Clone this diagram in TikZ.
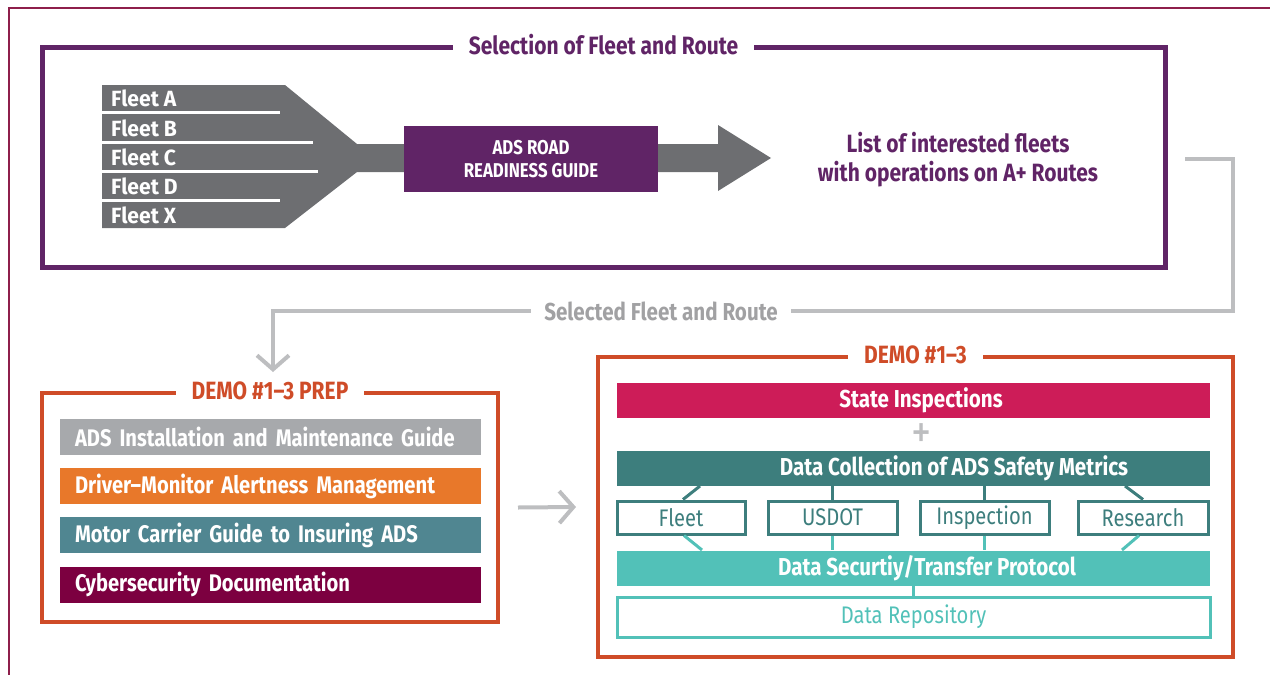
\documentclass[tikz,border=0pt]{standalone}
\usepackage{fontspec}
\setmainfont{Fira Sans}[FakeStretch=0.84]
\newfontfamily\widefont{Fira Sans}[FakeStretch=0.96]
\usetikzlibrary{arrows.meta}
\definecolor{purp}{RGB}{96,36,102}
\definecolor{funnel}{RGB}{109,110,113}
\definecolor{frameor}{RGB}{207,76,40}
\definecolor{lgray}{RGB}{189,190,192}
\definecolor{bargray}{RGB}{167,169,172}
\definecolor{barorange}{RGB}{232,120,42}
\definecolor{barteal}{RGB}{80,134,145}
\definecolor{barmaroon}{RGB}{124,0,64}
\definecolor{crimson}{RGB}{205,28,88}
\definecolor{dteal}{RGB}{61,126,125}
\definecolor{turq}{RGB}{82,193,184}
\definecolor{outer}{RGB}{142,31,75}
\tikzset{
  fleetlbl/.style={anchor=west,text=white,font=\widefont\fontsize{22}{22}\selectfont\bfseries,inner sep=0},
  frametitle/.style={fill=white,inner xsep=16,inner ysep=2,font=\fontsize{25}{25}\selectfont\bfseries},
  prepbar/.style={minimum height=36,text width=391,inner xsep=15,inner ysep=0,align=left,text=white,font=\fontsize{24}{24}\selectfont\bfseries},
  wideBar/.style={minimum width=593,minimum height=35,inner sep=0},
  barText/.style={text=white,font=\fontsize{24.5}{24.5}\selectfont\bfseries,inner sep=0},
  smallbox/.style={draw=dteal,line width=3,fill=white,minimum height=33,inner sep=0,text=dteal,font=\fontsize{24}{24}\selectfont},
  conn/.style={draw=lgray,line width=4},
  chev/.style={-{Straight Barb[length=14pt,width=32pt,line width=4pt]}},
}
\begin{document}
\begin{tikzpicture}[x=1pt,y=-1pt]
\useasboundingbox (0,0) rectangle (1270,675);
% outer frame fragment
\draw[outer,line width=2] (1270,8) -- (9,8) -- (9,675);

% ---------- Selection frame ----------
\node[draw=purp,line width=5,minimum width=1123,minimum height=220,inner sep=0] (sel) at (603.5,157) {};
\node[frametitle,text=purp] (seltitle) at (sel.north) {Selection of Fleet and Route};

% funnel + arrow
\fill[funnel] (102,85) -- (285,85) -- (357,144) -- (718,144) -- (718,125) -- (771,158)
  -- (718,191) -- (718,172) -- (357,172) -- (285,228) -- (102,228) -- cycle;
\draw[white,line width=3] (102,112.5) -- (280,112.5);
\draw[white,line width=3] (102,142) -- (313,142);
\draw[white,line width=3] (102,171.5) -- (318,171.5);
\draw[white,line width=3] (102,200.5) -- (280,200.5);
\node[fleetlbl] (fa) at (111,98) {Fleet A};
\node[fleetlbl] (fb) at (111,128) {Fleet B};
\node[fleetlbl] (fc) at (111,157) {Fleet C};
\node[fleetlbl] (fd) at (111,186) {Fleet D};
\node[fleetlbl] (fx) at (111,215) {Fleet X};

\node[fill=purp,minimum width=254,minimum height=66,inner sep=0,align=center,text=white,
  font=\fontsize{20}{23}\selectfont\bfseries] (road) at (531,159) {ADS ROAD\\READINESS GUIDE};

\node[align=center,text=purp,font=\fontsize{25}{29}\selectfont\bfseries] (list) at (958,160)
  {List of interested fleets\\with operations on A+ Routes};

% ---------- gray connector ----------
\coordinate (c1) at (1185,159);
\coordinate (k1) at (1233,311);
\coordinate (prepin) at (273,372);
\draw[conn,chev] (c1) -| (k1) -| (prepin);
\node[fill=white,inner xsep=13,text=lgray!85!black,font=\fontsize{24.5}{24.5}\selectfont\bfseries] (sfr) at (661,311) {Selected Fleet and Route};

% ---------- PREP frame ----------
\node[draw=frameor,line width=4,minimum width=456,minimum height=229,inner sep=0] (prep) at (270,507.5) {};
\node[frametitle,text=frameor] (preptitle) at (prep.north) {DEMO \#1--3 PREP};
\node[prepbar,fill=bargray] (b1) at (270.5,437) {ADS Installation and Maintenance Guide};
\node[prepbar,fill=barorange] (b2) at (270.5,486) {Driver--Monitor Alertness Management};
\node[prepbar,fill=barteal] (b3) at (270.5,535) {Motor Carrier Guide to Insuring ADS};
\node[prepbar,fill=barmaroon] (b4) at (270.5,584.5) {Cybersecurity Documentation};

% ---------- DEMO frame ----------
\node[draw=frameor,line width=4,minimum width=635,minimum height=300,inner sep=0] (demo) at (915.5,507) {};
\node[frametitle,text=frameor] (demotitle) at (demo.north) {DEMO \#1--3};

\draw[conn,chev] ([xshift=18]prep.east) -- ([xshift=-20]demo.west);

\node[wideBar,fill=crimson] (si) at (913.5,400.5) {};
\node[barText] (sit) at (921,400.5) {State Inspections};
\node[text=lgray,font=\fontsize{48}{48}\selectfont,inner sep=0,text height=20,text depth=0] (plus) at (922,438) {+};
\node[wideBar,fill=dteal] (dc) at (913.5,468.5) {};
\node[barText] (dct) at (954,468.5) {Data Collection of ADS Safety Metrics};

\node[smallbox,minimum width=128] (fleet) at (681,517.5) {Fleet};
\node[smallbox,minimum width=129] (usdot) at (832.5,517.5) {USDOT};
\node[smallbox,minimum width=129] (insp) at (984.5,517.5) {Inspection};
\node[smallbox,minimum width=130] (res) at (1143,517.5) {Research};

\node[wideBar,fill=turq] (sec) at (913.5,568) {};
\node[barText] (sect) at (927,568) {Data Securtiy/Transfer Protocol};

\node[draw=turq,line width=3,minimum width=593,minimum height=40,inner sep=0,text=turq,
  font=\fontsize{24}{24}\selectfont] (repo) at (913.5,617) {Data Repository};

% connectors top
\coordinate (t1) at (700,486);
\coordinate (t4) at (1125,486);
\draw[dteal,line width=3] (t1) -- ([xshift=2]fleet.north);
\draw[dteal,line width=3] (usdot.north) -- (usdot.north |- dc.south);
\draw[dteal,line width=3] (insp.north) -- (insp.north |- dc.south);
\draw[dteal,line width=3] (t4) -- (res.north);
% connectors bottom
\coordinate (u1) at (702,550);
\coordinate (u4) at (1122,550);
\draw[turq,line width=3] ([xshift=3]fleet.south) -- (u1);
\draw[turq,line width=3] (usdot.south) -- (usdot.south |- sec.north);
\draw[turq,line width=3] (insp.south) -- (insp.south |- sec.north);
\draw[turq,line width=3] ([xshift=-4]res.south) -- (u4);
\draw[turq,line width=3] (sec.south) -- (repo.north);
\end{tikzpicture}
\end{document}
